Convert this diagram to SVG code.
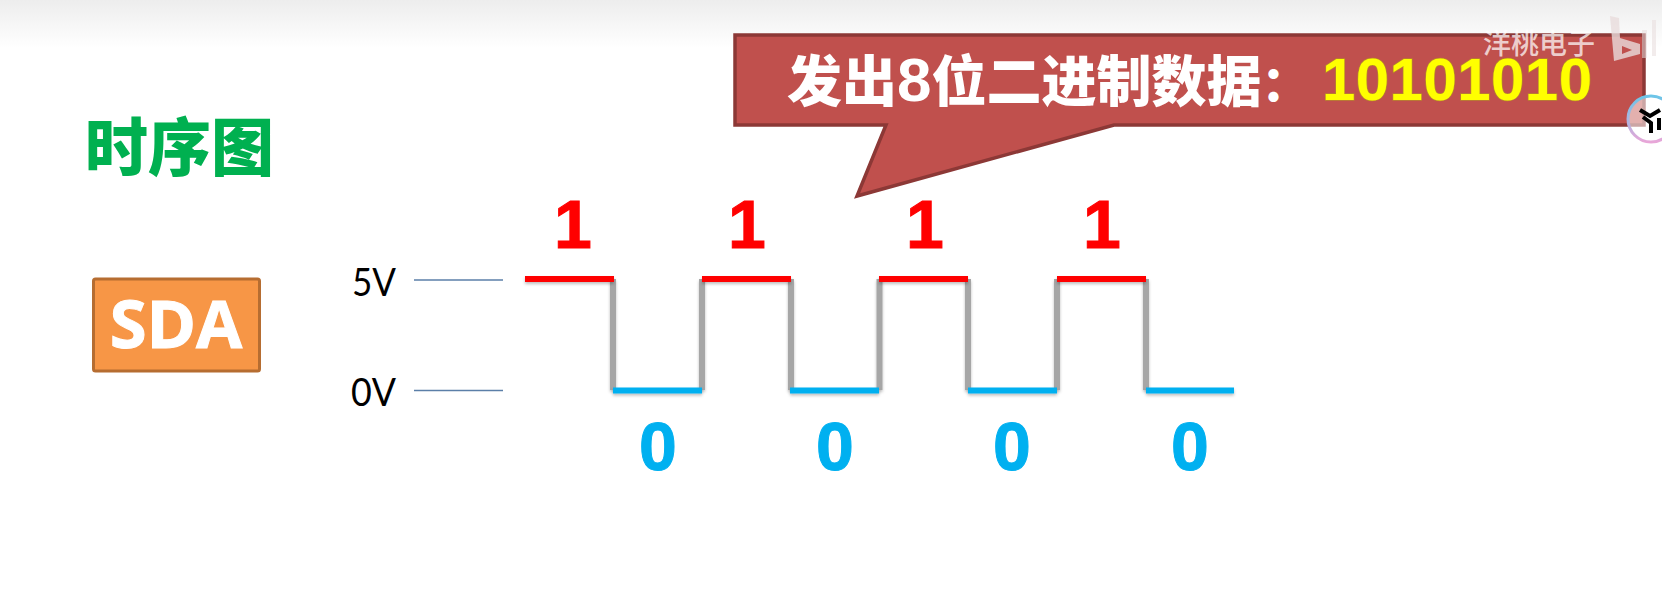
<svg xmlns="http://www.w3.org/2000/svg" width="1662" height="590" viewBox="0 0 1662 590">
<style>
.dig{font-family:"Liberation Sans",Arial,sans-serif;font-weight:700;font-size:68px;text-anchor:middle;stroke-width:1px}
.one{fill:#FF0000;stroke:#FF0000}.zero{fill:#00B0F0;stroke:#00B0F0}
.v{font-family:Lato,"Open Sans",sans-serif;font-size:39px;fill:#000}
.ref{stroke:#5B7FA8;stroke-width:1.5;fill:none}
.hi{stroke:#FF0000;stroke-width:6;fill:none}
.lo{stroke:#00B0F0;stroke-width:6;fill:none}
.edge{stroke:#A6A6A6;stroke-width:6;fill:none}
.hz{font-family:"Noto Sans CJK SC","Noto Sans",sans-serif;font-weight:900}
</style>
<defs>
<linearGradient id="top" x1="0" y1="0" x2="0" y2="1"><stop offset="0" stop-color="#EDEDED"/><stop offset="1" stop-color="#FFFFFF"/></linearGradient>
<linearGradient id="ring" x1="0" y1="0" x2="0" y2="1"><stop offset="0" stop-color="#6CC5E8"/><stop offset="1" stop-color="#E8A6D8"/></linearGradient>
<filter id="sh" x="-5%" y="-100%" width="110%" height="300%"><feDropShadow dx="0" dy="2" stdDeviation="1.5" flood-color="#000" flood-opacity="0.25"/></filter>
</defs>
<rect width="1662" height="590" fill="#FFFFFF"/>
<rect id="topband" width="1662" height="48" fill="url(#top)"/>
<g id="title"><text class="hz" x="85" y="170" font-size="63" fill="#00B050">时序图</text></g>
<g id="sda">
<rect x="93.500" y="279" width="166" height="92" rx="2" fill="#F79646" stroke="#B66D31" stroke-width="3"/>
<text x="176" y="348" font-family="'Open Sans','Noto Sans',sans-serif" font-weight="700" font-size="67" fill="#FFFFFF" stroke="#FFFFFF" stroke-width="1" text-anchor="middle">SDA</text>
</g>
<g id="level-5v"><text class="v" x="352" y="296" textLength="44" lengthAdjust="spacingAndGlyphs">5V</text><line class="ref" x1="414" y1="280" x2="503" y2="280"/></g>
<g id="level-0v"><text class="v" x="351" y="406" textLength="45" lengthAdjust="spacingAndGlyphs">0V</text><line class="ref" x1="414" y1="390.500" x2="503" y2="390.500"/></g>
<g id="connectors">
<g filter="url(#sh)">
<path class="edge" d="M613 279V390M702 390V279M791 279V390M879.500 390V279M968 279V390M1057 390V279M1146 279V390"/>
</g>
<g filter="url(#sh)">
<path class="hi" d="M525 279H614M702 279H791M879 279H968M1057 279H1146"/>
<path class="lo" d="M613 390.500H702M790 390.500H879M968 390.500H1057M1146 390.500H1234"/>
</g>
</g>
<g id="bits-high">
<text class="dig one" x="573" y="248">1</text><text class="dig one" x="747" y="248">1</text><text class="dig one" x="925" y="248">1</text><text class="dig one" x="1102" y="248">1</text>
</g>
<g id="bits-low">
<text class="dig zero" x="658" y="470">0</text><text class="dig zero" x="835" y="470">0</text><text class="dig zero" x="1012" y="470">0</text><text class="dig zero" x="1190" y="470">0</text>
</g>
<g id="callout">
<path d="M735 35H1644V125H1114L857 196L886 125H735Z" fill="#C0504D" stroke="#8C3836" stroke-width="3.500"/>
<text class="hz" x="787" y="101" font-size="55" fill="#FFFFFF">发出<tspan style="font-family:'Liberation Sans',sans-serif;font-weight:700" font-size="62">8</tspan>位二进制数据<tspan font-size="48">：</tspan></text>
<text x="1322" y="100" font-family="'Liberation Sans',sans-serif" font-weight="700" font-size="60" fill="#FFFF00" stroke="#B8862B" stroke-width="1.500" paint-order="stroke" textLength="270">10101010</text>
</g>
<g id="watermark">
<text class="hz" x="1483" y="54" font-size="28" fill="#FFFFFF" fill-opacity="0.72" style="font-weight:500">洋桃电子</text>
<path d="M1610 16L1619 18L1620 38L1640 44L1640 54L1614 61Z M1622 46L1622 54L1632 50Z" fill="#E8DCDC" fill-opacity="0.8" fill-rule="evenodd"/>
<path d="M1642 30h5v28h-5zM1652 20h4v36h-4z" fill="#E8DCDC" fill-opacity="0.55"/>
</g>
<g id="badge">
<circle cx="1651" cy="119" r="23" fill="#FFFFFF" fill-opacity="0.55" stroke="url(#ring)" stroke-width="3"/>
<path d="M1640 110L1650 116L1660 110M1643 117L1651 123V133M1659 118V130" fill="none" stroke="#000" stroke-width="4"/>
</g>
</svg>
